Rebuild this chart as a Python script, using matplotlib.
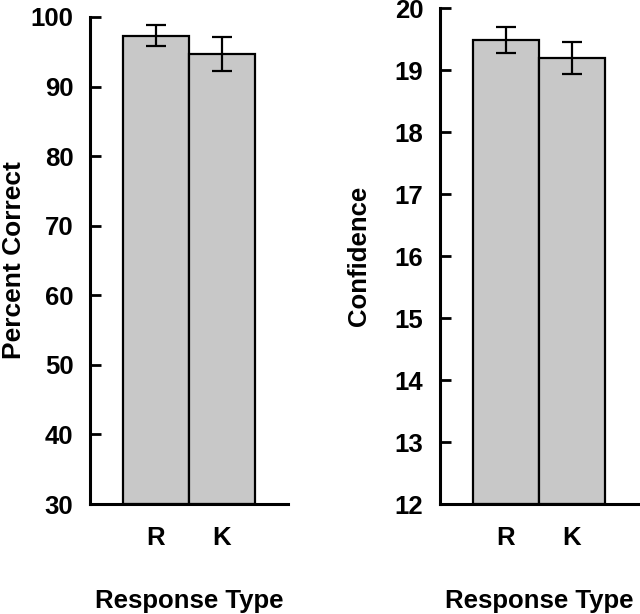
import matplotlib
matplotlib.use("Agg")
import matplotlib.pyplot as plt

categories = ["R", "K"]
pc_means = [97.3, 94.7]
pc_errs = [1.5, 2.4]
conf_means = [19.49, 19.20]
conf_errs = [0.21, 0.26]

plt.rcParams['font.family'] = ['Liberation Sans', 'DejaVu Sans']
FS = 18.5
FW = 'bold'

fig = plt.figure(figsize=(6.4, 6.14), dpi=100)
ax1 = fig.add_axes([90/640, 1-504/614, 198/640, (504-17)/614])
ax2 = fig.add_axes([440/640, 1-504/614, 198/640, (504-8.3)/614])

def style(ax, means, errs, ylim, yticks, ylabel, lx, lfs):
    x = [1, 2]
    ax.bar(x, [m - ylim[0] for m in means], bottom=ylim[0], width=1.0,
           color='#c8c8c8', edgecolor='black', linewidth=1.6, zorder=2)
    ax.errorbar(x, means, yerr=errs, fmt='none', ecolor='black',
                elinewidth=1.6, capsize=7.5, capthick=1.6, zorder=3)
    ax.set_xlim(0, 3)
    ax.set_ylim(*ylim)
    ax.set_yticks(yticks)
    ax.set_yticklabels([str(t) for t in yticks], fontsize=FS, fontweight=FW)
    ax.set_xticks(x)
    ax.set_xticklabels(categories, fontsize=FS, fontweight=FW)
    ax.tick_params(axis='x', length=0, pad=16)
    ax.tick_params(axis='y', direction='in', length=8, width=2, pad=12)
    for s in ['top', 'right']:
        ax.spines[s].set_visible(False)
    for s in ['left', 'bottom']:
        ax.spines[s].set_linewidth(2.2)
    ax.set_xlabel("Response Type", fontsize=FS, fontweight=FW, labelpad=28)
    ax.set_ylabel(ylabel, fontsize=lfs, fontweight=FW)
    ax.yaxis.set_label_coords(lx, 0.5)

style(ax1, pc_means, pc_errs, (30, 100), list(range(30, 101, 10)), "Percent Correct", -0.325, 19)
style(ax2, conf_means, conf_errs, (12, 20), list(range(12, 21, 1)), "Confidence", -0.35, 18.5)

fig.savefig("out.png", dpi=100)
